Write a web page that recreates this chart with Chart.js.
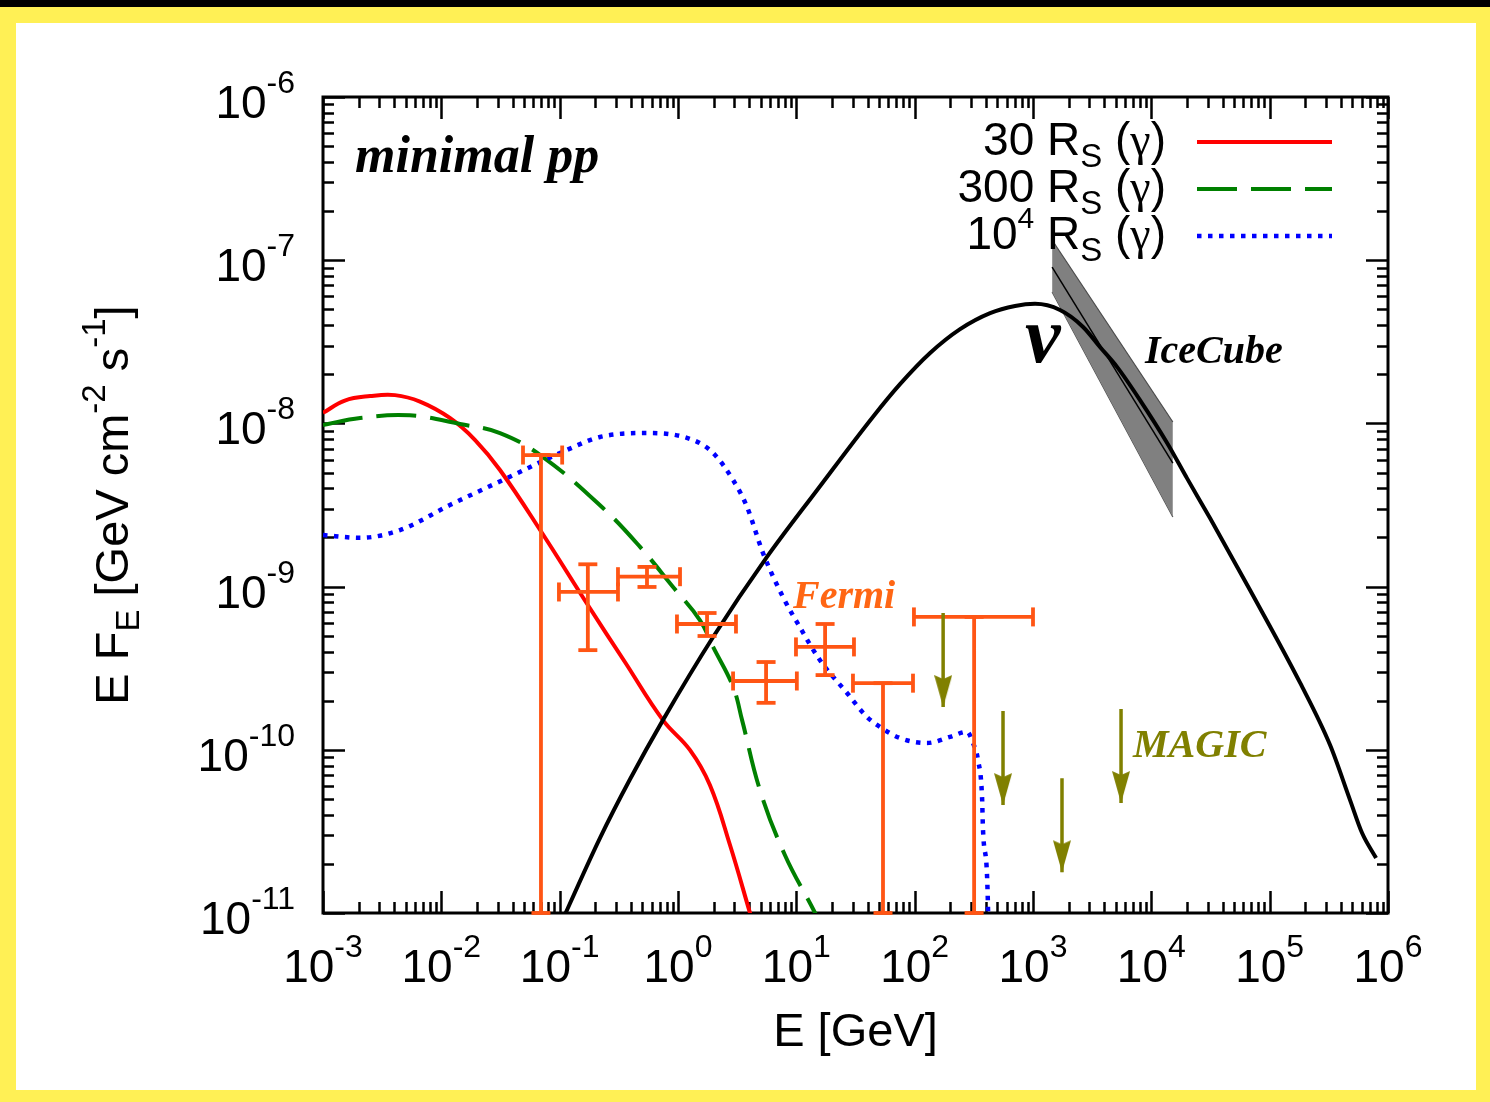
<!DOCTYPE html>
<html>
<head>
<meta charset="utf-8">
<title>minimal pp</title>
<script src="https://cdn.jsdelivr.net/npm/chart.js@4.4.1/dist/chart.umd.min.js"></script>
<style>
  html, body { margin: 0; padding: 0; background: #fff; overflow: hidden; }
  canvas { display: block; }
</style>
</head>
<body>
<canvas id="sed" width="1490" height="1102"></canvas>
<script>
// E [GeV] against E F_E [GeV cm^-2 s^-1]

// gamma-ray emission, 30 R_S
const red30E = [1e-3, 1.53e-3, 2.5e-3, 4.06e-3, 6.6e-3, 1.18e-2, 1.93e-2, 3.13e-2, 7.1e-2, 0.173, 0.356, 0.746, 1.26, 1.86, 2.75, 4.06, 5.0];
const red30F = [1.16e-8, 1.38e-8, 1.47e-8, 1.49e-8, 1.36e-8, 1.08e-8, 7.91e-9, 5.18e-9, 2.13e-9, 7.71e-10, 3.45e-10, 1.52e-10, 9.98e-11, 6.08e-11, 2.61e-11, 1.0e-11, 6e-12];

// gamma-ray emission, 300 R_S
const green300E = [1e-3, 2.06e-3, 5.43e-3, 1.44e-2, 3.13e-2, 7.23e-2, 0.232, 0.478, 0.908, 1.53, 1.98, 2.92, 3.48, 4.93, 8.02, 14.4, 18];
const green300F = [9.77e-9, 1.08e-8, 1.12e-8, 9.91e-9, 8.73e-9, 6.22e-9, 3.03e-9, 1.75e-9, 9.95e-10, 6.24e-10, 4.27e-10, 2.43e-10, 1.52e-10, 5.66e-11, 2.26e-11, 1.0e-11, 7e-12];

// gamma-ray emission, 10^4 R_S
const blue1e4E = [1e-3, 2.06e-3, 4.48e-3, 1.18e-2, 3.32e-2, 0.115, 0.219, 0.579, 1.34, 1.98, 2.92, 3.83, 5.22, 7.71, 10.7, 15.8, 26.8, 39.5, 50.9, 75.2, 127, 199, 277, 311, 343, 371, 378, 408, 417, 422];
const blue1e4F = [2.07e-9, 1.99e-9, 2.22e-9, 3.16e-9, 4.5e-9, 6.87e-9, 8.26e-9, 8.73e-9, 7.91e-9, 6.59e-9, 4.5e-9, 3.08e-9, 1.61e-9, 8.63e-10, 5.65e-10, 3.55e-10, 2.23e-10, 1.59e-10, 1.38e-10, 1.18e-10, 1.1e-10, 1.2e-10, 1.29e-10, 1.1e-10, 8.65e-11, 5.14e-11, 3.23e-11, 1.76e-11, 1.04e-11, 6.3e-12];

// neutrinos
const nuE = [0.09, 0.219, 0.393, 0.746, 1.98, 5.65, 15.0, 44.5, 75.2, 135, 242, 434, 705, 1040, 1690, 2650, 3680, 5130, 8020, 13600, 20000, 31300, 68200, 181000, 324000, 478000, 604000, 793000];
const nuF = [7e-12, 2.88e-11, 6.6e-11, 1.52e-10, 4.91e-10, 1.52e-9, 3.91e-9, 1.1e-8, 1.74e-8, 2.7e-8, 3.78e-8, 4.74e-8, 5.24e-8, 5.4e-8, 4.95e-8, 3.9e-8, 2.94e-8, 2.22e-8, 1.39e-8, 7.59e-9, 4.62e-9, 2.63e-9, 9.53e-10, 2.57e-10, 1.07e-10, 4.92e-11, 3.09e-11, 2.17e-11];

// IceCube band (power law, edges and best fit)
const icecubeE = [1450, 15200];
const icecubeHi = [1.33e-7, 1.02e-8];
const icecubeLo = [6.38e-8, 2.67e-9];
const icecubeMid = [9.08e-8, 5.71e-9];

// Fermi points: energy bin and flux range
const fermiE = [0.0695, 0.173, 0.547, 1.76, 5.55, 17.5, 54, 318];
const fermiELo = [0.049, 0.0986, 0.311, 0.98, 2.92, 9.93, 30.1, 98.6];
const fermiEHi = [0.105, 0.311, 1.04, 3.09, 10.1, 30.7, 96.8, 1000];
const fermiF = [6.4e-9, 9.27e-10, 1.15e-9, 5.9e-10, 2.64e-10, 4.27e-10, 2.56e-10, 6.52e-10];
const fermiFLo = [1e-11, 4.08e-10, 9.95e-10, 4.98e-10, 1.94e-10, 2.87e-10, 1e-11, 1e-11];
const fermiFHi = [6.4e-9, 1.37e-9, 1.32e-9, 6.89e-10, 3.45e-10, 5.9e-10, 2.56e-10, 6.52e-10];

// MAGIC upper limits
const magicE = [174, 558, 1758, 5546];
const magicUL = [6.9e-10, 1.73e-10, 6.7e-11, 1.78e-10];

// axis decades
const xDecades = [-3, -2, -1, 0, 1, 2, 3, 4, 5, 6];
const yDecades = [-11, -10, -9, -8, -7, -6];

const SANS = '"Liberation Sans", Arial, Helvetica, sans-serif';
const SERIF = '"Liberation Serif", "Times New Roman", serif';
const RED = '#ff0000';
const GREEN = '#008000';
const BLUE = '#0000ff';
const ORANGE = '#ff5514';
const OLIVE = '#808000';
const ARROW_DROP = 0.265;   // arrow length, as a flux factor

function pairs(xs, ys) {
  return xs.map((x, i) => ({ x, y: ys[i] }));
}

// error bars as gapped segments, caps as rotated 'line' points
const fermiBars = [];
const fermiCaps = [];
const capRotation = [];
fermiE.forEach((e, i) => {
  fermiBars.push({ x: fermiELo[i], y: fermiF[i] }, { x: fermiEHi[i], y: fermiF[i] }, { x: e, y: null });
  fermiBars.push({ x: e, y: fermiFLo[i] }, { x: e, y: fermiFHi[i] }, { x: e, y: null });
  fermiCaps.push({ x: fermiELo[i], y: fermiF[i] }, { x: fermiEHi[i], y: fermiF[i] },
                 { x: e, y: fermiFLo[i] }, { x: e, y: fermiFHi[i] });
  capRotation.push(90, 90, 0, 0);
});

const magicArrows = [];
magicE.forEach((e, i) => {
  magicArrows.push({ x: e, y: magicUL[i] }, { x: e, y: magicUL[i] * ARROW_DROP }, { x: e, y: null });
});

// arrow head with its tip at the centre of the image
function makeArrowHead(color) {
  const c = document.createElement('canvas');
  c.width = 18;
  c.height = 66;
  const g = c.getContext('2d');
  g.fillStyle = color;
  g.beginPath();
  g.moveTo(0, 1);
  g.lineTo(9, 5);
  g.lineTo(18, 1);
  g.lineTo(9, 33);
  g.closePath();
  g.fill();
  return c;
}
const arrowHead = makeArrowHead(OLIVE);

// text with sub/superscripts: parts are [text, size, baseline shift, family]
function drawRich(ctx, parts, x, y, align) {
  const fontOf = p => p[1] + 'px ' + (p[3] || SANS);
  let w = 0;
  parts.forEach(p => {
    ctx.font = fontOf(p);
    w += ctx.measureText(p[0]).width;
  });
  let cx = align === 'right' ? x - w : align === 'center' ? x - w / 2 : x;
  ctx.textAlign = 'left';
  ctx.textBaseline = 'alphabetic';
  parts.forEach(p => {
    ctx.font = fontOf(p);
    ctx.fillText(p[0], cx, y + p[2]);
    cx += ctx.measureText(p[0]).width;
  });
}

const pageFrame = {
  id: 'pageFrame',
  beforeDraw(chart) {
    const ctx = chart.ctx;
    ctx.save();
    ctx.fillStyle = '#000';
    ctx.fillRect(0, 0, chart.width, chart.height);
    ctx.fillStyle = '#fff055';
    ctx.fillRect(0, 7, chart.width, chart.height - 7);
    ctx.fillStyle = '#fff';
    ctx.fillRect(16, 23, 1460, 1067);
    ctx.restore();
  }
};

const gnuBorder = {
  id: 'gnuBorder',
  beforeDatasetsDraw(chart) {
    const ctx = chart.ctx;
    const { left, right, top, bottom } = chart.chartArea;
    const xs = chart.scales.x;
    const ys = chart.scales.y;
    ctx.save();
    ctx.strokeStyle = '#000';
    ctx.lineWidth = 2.5;
    ctx.beginPath();
    xDecades.forEach((d, k) => {
      for (let m = 1; m <= 9; m++) {
        if (m > 1 && k === xDecades.length - 1) break;
        const px = Math.round(xs.getPixelForValue(m * Math.pow(10, d))) + 0.5;
        const len = m === 1 ? 22 : 11;
        ctx.moveTo(px, bottom);
        ctx.lineTo(px, bottom - len);
        ctx.moveTo(px, top);
        ctx.lineTo(px, top + len);
      }
    });
    yDecades.forEach((d, k) => {
      for (let m = 1; m <= 9; m++) {
        if (m > 1 && k === yDecades.length - 1) break;
        const py = Math.round(ys.getPixelForValue(m * Math.pow(10, d))) + 0.5;
        const len = m === 1 ? 22 : 11;
        ctx.moveTo(left, py);
        ctx.lineTo(left + len, py);
        ctx.moveTo(right, py);
        ctx.lineTo(right - len, py);
      }
    });
    ctx.stroke();
    ctx.lineWidth = 3;
    ctx.strokeRect(left, top, right - left, bottom - top);
    ctx.restore();
  }
};

const labels = {
  id: 'labels',
  afterDraw(chart) {
    const ctx = chart.ctx;
    const xs = chart.scales.x;
    const ys = chart.scales.y;
    const area = chart.chartArea;
    ctx.save();
    ctx.fillStyle = '#000';

    // tick labels
    xDecades.forEach(d => {
      const px = xs.getPixelForValue(Math.pow(10, d));
      drawRich(ctx, [['10', 46, 0], [String(d), 32, -25]], px, 982, 'center');
    });
    yDecades.forEach(d => {
      const py = ys.getPixelForValue(Math.pow(10, d));
      drawRich(ctx, [['10', 46, 0], [String(d), 32, -25]], 295, py + 21, 'right');
    });

    // axis titles
    drawRich(ctx, [['E [GeV]', 47, 0]], (area.left + area.right) / 2, 1046, 'center');
    ctx.save();
    ctx.translate(128, (area.top + area.bottom) / 2);
    ctx.rotate(-Math.PI / 2);
    drawRich(ctx, [['E F', 47, 0], ['E', 33, 11], [' [GeV cm', 47, 0], ['-2', 33, -23],
                   [' s', 47, 0], ['-1', 33, -23], [']', 47, 0]], 0, 0, 'center');
    ctx.restore();

    // key
    const gamma = [[' (', 46, 0], ['\u03b3', 46, 0, SERIF], [')', 46, 0]];
    drawRich(ctx, [['30 R', 46, 0], ['S', 33, 12], ...gamma], 1166, 155, 'right');
    drawRich(ctx, [['300 R', 46, 0], ['S', 33, 12], ...gamma], 1166, 202, 'right');
    drawRich(ctx, [['10', 46, 0], ['4', 30, -21], [' R', 46, 0], ['S', 33, 12], ...gamma], 1166, 249, 'right');
    ctx.lineCap = 'butt';
    [[RED, [], 142, 4], [GREEN, [40, 14], 189, 4], [BLUE, [4.5, 6.5], 236, 4.5]].forEach(([c, dash, y, lw]) => {
      ctx.strokeStyle = c;
      ctx.setLineDash(dash);
      ctx.lineWidth = lw;
      ctx.beginPath();
      ctx.moveTo(1197, y);
      ctx.lineTo(1332, y);
      ctx.stroke();
    });
    ctx.setLineDash([]);

    // annotations
    ctx.textAlign = 'left';
    ctx.textBaseline = 'alphabetic';
    ctx.font = 'italic bold 52px ' + SERIF;
    ctx.fillStyle = '#000';
    ctx.fillText('minimal pp', 355, 172);
    ctx.font = 'italic bold 40px ' + SERIF;
    ctx.fillText('IceCube', 1145, 363);
    ctx.fillStyle = '#ff6614';
    ctx.fillText('Fermi', 793, 608);
    ctx.fillStyle = OLIVE;
    ctx.fillText('MAGIC', 1133, 757);
    ctx.fillStyle = '#000';
    ctx.font = 'italic bold 80px ' + SERIF;
    ctx.fillText('\u03bd', 1025, 362);
    ctx.restore();
  }
};

const smooth = { pointRadius: 0, fill: false, tension: 0.4 };

new Chart(document.getElementById('sed'), {
  type: 'line',
  data: {
    datasets: [
      { ...smooth, label: '30 RS', data: pairs(red30E, red30F), borderColor: RED, borderWidth: 4, order: 5 },
      { ...smooth, label: '300 RS', data: pairs(green300E, green300F), borderColor: GREEN, borderWidth: 4,
        borderDash: [40, 14], order: 4 },
      { ...smooth, label: '1e4 RS', data: pairs(blue1e4E, blue1e4F), borderColor: BLUE, borderWidth: 4.5,
        borderDash: [4.5, 6.5], borderCapStyle: 'butt', cubicInterpolationMode: 'monotone', order: 3 },
      { ...smooth, label: 'nu', data: pairs(nuE, nuF), borderColor: '#000', borderWidth: 4,
        cubicInterpolationMode: 'monotone', order: 2 },
      { label: 'IceCube upper', data: pairs(icecubeE, icecubeHi), borderColor: '#4a4a4a', borderWidth: 1.2,
        backgroundColor: '#808080', fill: '+1', pointRadius: 0, order: 10 },
      { label: 'IceCube lower', data: pairs(icecubeE, icecubeLo), borderColor: '#4a4a4a', borderWidth: 1.2,
        fill: false, pointRadius: 0, order: 10 },
      { label: 'IceCube fit', data: pairs(icecubeE, icecubeMid), borderColor: '#000', borderWidth: 1.5,
        fill: false, pointRadius: 0, order: 9 },
      { label: 'Fermi', data: fermiBars, borderColor: ORANGE, borderWidth: 3.8, pointRadius: 0,
        fill: false, clip: { left: 0, top: 0, right: 0, bottom: 4 }, order: 1 },
      { label: 'Fermi caps', data: fermiCaps, showLine: false, pointStyle: 'line', pointRadius: 9.5,
        pointBorderWidth: 3.8, pointBorderColor: ORANGE, pointBackgroundColor: ORANGE,
        pointRotation: capRotation, clip: { left: 0, top: 0, right: 0, bottom: 4 }, order: 1 },
      { label: 'MAGIC', data: magicArrows, borderColor: OLIVE, borderWidth: 3.5, fill: false,
        pointStyle: arrowHead, pointRadius: ctx => (ctx.dataIndex % 3 === 1 ? 8 : 0), order: 0 }
    ]
  },
  options: {
    responsive: false,
    devicePixelRatio: 1,
    animation: false,
    events: [],
    layout: { padding: { left: 0, right: 102, top: 97, bottom: 0 } },
    scales: {
      x: {
        type: 'logarithmic',
        min: 1e-3,
        max: 1e6,
        grid: { display: false },
        border: { display: false },
        ticks: { display: false },
        afterFit(scale) { scale.height = 189; }
      },
      y: {
        type: 'logarithmic',
        min: 1e-11,
        max: 1e-6,
        grid: { display: false },
        border: { display: false },
        ticks: { display: false },
        afterFit(scale) { scale.width = 323; }
      }
    },
    plugins: {
      legend: { display: false },
      tooltip: { enabled: false }
    }
  },
  plugins: [pageFrame, gnuBorder, labels]
});
</script>
</body>
</html>
